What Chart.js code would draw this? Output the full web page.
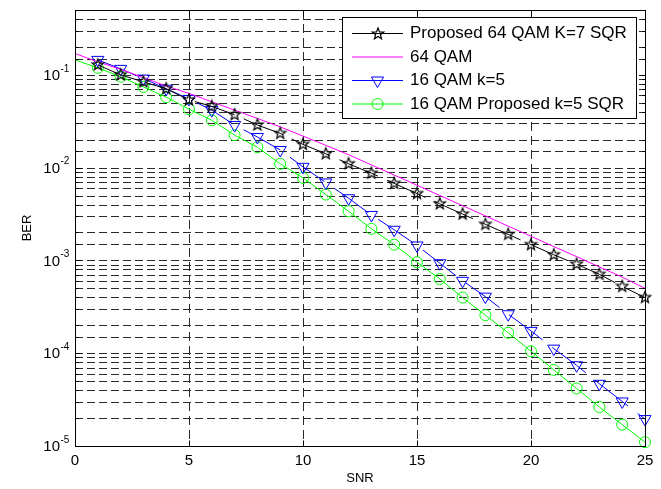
<!DOCTYPE html>
<html>
<head>
<meta charset="utf-8">
<script src="https://cdn.jsdelivr.net/npm/chart.js@4.4.0/dist/chart.umd.min.js"></script>
<style>
  html, body { margin: 0; padding: 0; background: #fff; }
  #wrap { width: 661px; height: 489px; }
</style>
</head>
<body>
<div id="wrap"><canvas id="berChart" width="661" height="489"></canvas></div>
<script>
// SNR points (dB)
const snr = [0, 1, 2, 3, 4, 5, 6, 7, 8, 9, 10, 11, 12, 13, 14, 15, 16, 17, 18, 19, 20, 21, 22, 23, 24, 25];

// BER curves
const berProposed64 = [null, 0.128, 0.100, 0.0841, 0.0708, 0.0537, 0.0457, 0.0372, 0.0288, 0.0234, 0.0178,
  0.0141, 0.0110, 0.00871, 0.00676, 0.00525, 0.00407, 0.00316, 0.00245, 0.00191, 0.00148,
  0.00115, 0.000912, 0.000708, 0.000525, 0.000398];
const ber64 = [0.170, 0.138, 0.115, 0.0933, 0.0759, 0.0631, 0.0513, 0.0417, 0.0339, 0.0275, 0.0219,
  0.0174, 0.0138, 0.0107, 0.00832, 0.00646, 0.00501, 0.00389, 0.00302, 0.00234, 0.00182,
  0.00141, 0.00110, 0.000851, 0.000661, 0.000501];
const ber16 = [null, 0.145, 0.116, 0.0912, 0.0708, 0.0550, 0.0417, 0.0288, 0.0214, 0.0155, 0.0102,
  0.00692, 0.00468, 0.00309, 0.00214, 0.00145, 0.000933, 0.000603, 0.000407, 0.000263, 0.000174,
  0.000112, 0.0000741, 0.0000468, 0.0000302, 0.0000195];
const ber16Proposed = [0.145, 0.119, 0.0955, 0.0741, 0.0575, 0.0427, 0.0324, 0.0224, 0.0166, 0.0110, 0.00776,
  0.00513, 0.00339, 0.00219, 0.00148, 0.000955, 0.000631, 0.000398, 0.000257, 0.000166, 0.000105,
  0.0000661, 0.0000417, 0.0000263, 0.0000170, 0.0000110];

const seriesLabels = ['Proposed 64 QAM K=7 SQR', '64 QAM', '16 QAM k=5', '16 QAM Proposed k=5 SQR'];
const xTicks = [0, 5, 10, 15, 20, 25];
const yDecades = [-5, -4, -3, -2, -1];

const FONT = "'Liberation Sans', Arial, Helvetica, sans-serif";

// pentagram marker like matlab 'p'
function makeStar(r) {
  const c = document.createElement('canvas');
  const s = Math.ceil(r * 2 + 4);
  c.width = s; c.height = s;
  const g = c.getContext('2d');
  g.beginPath();
  for (let i = 0; i < 10; i++) {
    const rr = i % 2 ? r * 0.42 : r;
    const ang = -Math.PI / 2 + i * Math.PI / 5;
    g.lineTo(s / 2 + rr * Math.cos(ang), s / 2 + rr * Math.sin(ang));
  }
  g.closePath();
  g.strokeStyle = '#000';
  g.lineWidth = 1.2;
  g.stroke();
  return c;
}
const starImg = makeStar(6);

const toPts = arr => snr.map((s, i) => ({ x: s, y: arr[i] }));

// grid, box, ticks, labels and legend drawn matlab-style
const matlabAxes = {
  id: 'matlabAxes',
  beforeDatasetsDraw(chart) {
    const { ctx, chartArea: a, scales: { x, y } } = chart;
    ctx.save();
    ctx.strokeStyle = '#2a2a2a';
    ctx.lineWidth = 1;
    ctx.setLineDash([8, 4]);
    y.ticks.forEach(t => {
      if (t.value <= y.min || t.value >= y.max) return;
      const py = Math.round(y.getPixelForValue(t.value)) + 0.5;
      ctx.beginPath(); ctx.moveTo(a.left, py); ctx.lineTo(a.right, py); ctx.stroke();
    });
    ctx.setLineDash([9, 5]);
    xTicks.forEach(v => {
      if (v <= x.min || v >= x.max) return;
      const px = Math.round(x.getPixelForValue(v)) + 0.5;
      ctx.beginPath(); ctx.moveTo(px, a.top); ctx.lineTo(px, a.bottom); ctx.stroke();
    });
    ctx.restore();
  },
  afterDatasetsDraw(chart) {
    const { ctx, chartArea: a, scales: { x, y } } = chart;
    ctx.save();
    ctx.strokeStyle = '#000';
    ctx.lineWidth = 1;
    ctx.setLineDash([]);
    const L = Math.round(a.left) + 0.5, R = Math.round(a.right) + 0.5;
    const T = Math.round(a.top) + 0.5, B = Math.round(a.bottom) + 0.5;
    ctx.strokeRect(L, T, R - L, B - T);

    // tick marks inside the box
    y.ticks.forEach(t => {
      const py = Math.round(y.getPixelForValue(t.value)) + 0.5;
      const major = Math.abs(Math.log10(t.value) - Math.round(Math.log10(t.value))) < 1e-6;
      const len = major ? 6 : 3;
      ctx.beginPath();
      ctx.moveTo(L, py); ctx.lineTo(L + len, py);
      ctx.moveTo(R, py); ctx.lineTo(R - len, py);
      ctx.stroke();
    });
    xTicks.forEach(v => {
      const px = Math.round(x.getPixelForValue(v)) + 0.5;
      ctx.beginPath();
      ctx.moveTo(px, B); ctx.lineTo(px, B - 6);
      ctx.moveTo(px, T); ctx.lineTo(px, T + 6);
      ctx.stroke();
    });

    // tick labels
    ctx.fillStyle = '#000';
    ctx.font = '15px ' + FONT;
    ctx.textAlign = 'center';
    ctx.textBaseline = 'middle';
    xTicks.forEach(v => ctx.fillText(String(v), x.getPixelForValue(v), 461));

    yDecades.forEach(k => {
      const py = y.getPixelForValue(Math.pow(10, k));
      ctx.font = '15px ' + FONT;
      ctx.textAlign = 'right';
      ctx.textBaseline = 'middle';
      ctx.fillText('10', 60, py + 1);
      ctx.font = '10px ' + FONT;
      ctx.textAlign = 'left';
      ctx.fillText(String(k), 60.5, py - 6);
    });

    // axis titles
    ctx.font = '13px ' + FONT;
    ctx.textAlign = 'center';
    ctx.textBaseline = 'middle';
    ctx.fillText('SNR', (a.left + a.right) / 2, 478);
    ctx.save();
    ctx.translate(27, (a.top + a.bottom) / 2);
    ctx.rotate(-Math.PI / 2);
    ctx.fillText('BER', 0, 0);
    ctx.restore();

    // legend box
    const bx = 342.5, by = 17.5, bw = 294, bh = 101;
    ctx.fillStyle = '#fff';
    ctx.fillRect(bx, by, bw, bh);
    ctx.strokeRect(bx, by, bw, bh);
    const rows = [33, 56.5, 80, 103.5];
    chart.data.datasets.forEach((ds, i) => {
      const ry = rows[i] + 0.5;
      ctx.strokeStyle = ds.borderColor;
      ctx.lineWidth = 1;
      ctx.beginPath(); ctx.moveTo(352, ry); ctx.lineTo(403, ry); ctx.stroke();
      const mx = 377.5;
      if (i === 0) {
        ctx.drawImage(starImg, Math.round(mx - starImg.width / 2), Math.round(ry - starImg.height / 2));
      } else if (i === 2) {
        const r = 7;
        ctx.beginPath();
        ctx.moveTo(mx, ry + r);
        ctx.lineTo(mx - r * 0.866, ry - r / 2);
        ctx.lineTo(mx + r * 0.866, ry - r / 2);
        ctx.closePath(); ctx.stroke();
      } else if (i === 3) {
        ctx.beginPath(); ctx.arc(mx, ry, 5.5, 0, Math.PI * 2); ctx.stroke();
      }
      ctx.fillStyle = '#000';
      ctx.font = '17px ' + FONT;
      ctx.textAlign = 'left';
      ctx.textBaseline = 'middle';
      ctx.fillText(ds.label, 410, ry);
    });
    ctx.restore();
  }
};

const ctx = document.getElementById('berChart').getContext('2d');
new Chart(ctx, {
  type: 'line',
  data: {
    datasets: [
      {
        label: seriesLabels[0],
        data: toPts(berProposed64),
        borderColor: '#000000',
        borderWidth: 1,
        borderDash: [42, 10],
        pointStyle: starImg,
        pointRadius: 6,
        pointHoverRadius: 6
      },
      {
        label: seriesLabels[1],
        data: toPts(ber64),
        borderColor: '#ff00ff',
        borderWidth: 1,
        pointRadius: 0
      },
      {
        label: seriesLabels[2],
        data: toPts(ber16),
        borderColor: '#0000ff',
        borderWidth: 1,
        borderDash: [42, 12],
        pointStyle: 'triangle',
        pointRotation: 180,
        pointRadius: 7,
        pointHoverRadius: 7,
        pointBorderWidth: 1,
        pointBorderColor: '#0000ff',
        pointBackgroundColor: 'rgba(0,0,0,0)'
      },
      {
        label: seriesLabels[3],
        data: toPts(ber16Proposed),
        borderColor: '#00ff00',
        borderWidth: 1,
        pointStyle: 'circle',
        pointRadius: c => (c.dataIndex === 0 ? 0 : 5.5),
        pointHoverRadius: 5.5,
        pointBorderWidth: 1,
        pointBorderColor: '#00ff00',
        pointBackgroundColor: 'rgba(0,0,0,0)'
      }
    ]
  },
  options: {
    responsive: false,
    animation: false,
    devicePixelRatio: 1,
    layout: { padding: { top: 10, right: 16, left: 0, bottom: 0 } },
    elements: { line: { tension: 0, fill: false } },
    datasets: { line: { clip: false, spanGaps: false } },
    plugins: { legend: { display: false }, tooltip: { enabled: false } },
    scales: {
      x: {
        type: 'linear', min: 0, max: 25,
        ticks: { display: false, stepSize: 5 },
        grid: { display: false },
        border: { display: false },
        afterFit: s => { s.height = 43; }
      },
      y: {
        type: 'logarithmic', min: 1e-5, max: 0.5,
        ticks: { display: false },
        grid: { display: false },
        border: { display: false },
        afterFit: s => { s.width = 75; }
      }
    }
  },
  plugins: [matlabAxes]
});
</script>
</body>
</html>
